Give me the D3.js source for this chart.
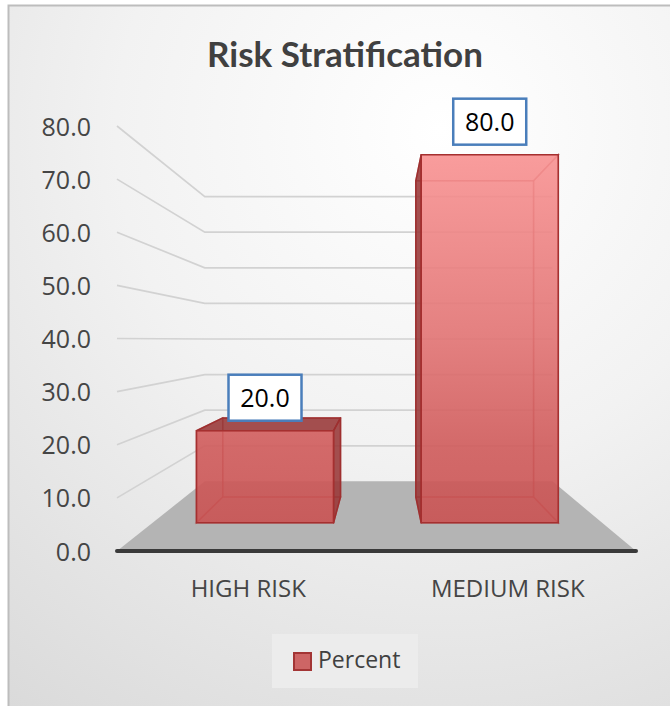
<!DOCTYPE html>
<html><head><meta charset="utf-8">
<script src="https://cdn.jsdelivr.net/npm/d3@7"></script>
<style>body{margin:0;background:#fff} svg{display:block}</style>
</head><body><svg id="c" width="670" height="706"></svg>
<script>
// ---- data ----
const chartTitle = "Risk Stratification";
const categories = ["HIGH RISK", "MEDIUM RISK"];
const percentValues = [20.0, 80.0];
const yTicks = [0, 10, 20, 30, 40, 50, 60, 70, 80];
const seriesName = "Percent";

// ---- layout ----
const W = 670, H = 706;
const svg = d3.select("#c");
const VP = [383, 340];          // vanishing point
const kBack = 0.67;             // depth factor of back wall
const kBarFront = 0.866, kBarBack = 0.744;

const x = d3.scaleBand().domain(categories).range([117, 636]);
const y = d3.scaleLinear().domain([0, 80]).range([551, 126]);
const P = (xw, yw, k) => [VP[0] + k * (xw - VP[0]), VP[1] + k * (yw - VP[1])];
const poly = pts => "M" + pts.map(p => p.join(",")).join("L") + "Z";

const defs = svg.append("defs");
const bg = defs.append("radialGradient").attr("id", "bg")
  .attr("gradientUnits", "userSpaceOnUse").attr("cx", 440).attr("cy", 130).attr("r", 720);
bg.append("stop").attr("offset", 0).attr("stop-color", "#ffffff");
bg.append("stop").attr("offset", 0.45).attr("stop-color", "#f2f2f2");
bg.append("stop").attr("offset", 1).attr("stop-color", "#dadada");

const bar = defs.append("linearGradient").attr("id", "barg")
  .attr("gradientUnits", "userSpaceOnUse").attr("x1", 0).attr("x2", 0).attr("y1", 150).attr("y2", 525);
bar.append("stop").attr("offset", 0).attr("stop-color", "#fa9494");
bar.append("stop").attr("offset", 0.5).attr("stop-color", "#e27474");
bar.append("stop").attr("offset", 0.8).attr("stop-color", "#cf5a5a");
bar.append("stop").attr("offset", 1).attr("stop-color", "#c95252");

// background + frame
svg.append("rect").attr("x", 8.5).attr("y", 5.5).attr("width", W).attr("height", H)
  .attr("fill", "url(#bg)").attr("stroke", "#bdbdbd").attr("stroke-width", 2);

// title
svg.append("text").attr("x", 345).attr("y", 67).attr("text-anchor", "middle")
  .attr("font-family", "Lato, 'Open Sans', sans-serif").attr("font-weight", 700)
  .attr("font-size", 35).attr("fill", "#404040").text(chartTitle);

// floor
const fx0 = x.range()[0], fx1 = x.range()[1];
svg.append("path")
  .attr("d", poly([P(fx0, y(0), 1), P(fx1, y(0), 1), P(fx1, y(0), kBack), P(fx0, y(0), kBack)]))
  .attr("fill", "#b4b4b4");

// gridlines (left wall + back wall)
const grid = svg.append("g").attr("fill", "none").attr("stroke", "#d2d2d2").attr("stroke-width", 1.7);
yTicks.filter(t => t > 0).forEach(t => {
  const a = P(fx0, y(t), 1), b = P(fx0, y(t), kBack), c = P(fx1, y(t), kBack);
  grid.append("path").attr("d", "M" + a + "L" + b + "L" + c);
});

// y tick labels
svg.append("g").selectAll("text").data(yTicks).join("text")
  .attr("x", 91).attr("y", d => y(d) + 9.5).attr("text-anchor", "end")
  .attr("font-family", "'Open Sans', sans-serif").attr("font-size", 25).attr("fill", "#454545")
  .text(d => d.toFixed(1));

// front axis line
svg.append("line").attr("x1", fx0).attr("x2", fx1).attr("y1", y(0)).attr("y2", y(0))
  .attr("stroke", "#3a3a3a").attr("stroke-width", 4).attr("stroke-linecap", "round");

// bars
const barHalf = x.bandwidth() * 0.305;
categories.forEach((cat, i) => {
  const v = percentValues[i];
  const cx = x(cat) + x.bandwidth() / 2;
  const xl = cx - barHalf, xr = cx + barHalf, yt = y(v), yb = y(0);
  const g = svg.append("g");
  const k1 = kBarFront, k2 = kBarBack;
  const back = [P(xl, yt, k2), P(xr, yt, k2), P(xr, yb, k2), P(xl, yb, k2)];
  const bottom = [P(xl, yb, k1), P(xr, yb, k1), P(xr, yb, k2), P(xl, yb, k2)];
  const left = [P(xl, yt, k1), P(xl, yt, k2), P(xl, yb, k2), P(xl, yb, k1)];
  const right = [P(xr, yt, k1), P(xr, yt, k2), P(xr, yb, k2), P(xr, yb, k1)];
  const top = [P(xl, yt, k1), P(xr, yt, k1), P(xr, yt, k2), P(xl, yt, k2)];
  const front = [P(xl, yt, k1), P(xr, yt, k1), P(xr, yb, k1), P(xl, yb, k1)];
  const leftVis = xl > VP[0], rightVis = xr < VP[0], topVis = yt > VP[1];
  const hidden = [back, bottom];
  if (!leftVis) hidden.push(left);
  if (!rightVis) hidden.push(right);
  if (!topVis) hidden.push(top);
  hidden.forEach(f => g.append("path").attr("d", poly(f))
    .attr("fill", "#d06060").attr("fill-opacity", 0.2)
    .attr("stroke", "#a83a3a").attr("stroke-opacity", 0.55).attr("stroke-width", 1.5));
  const vis = [];
  if (leftVis) vis.push(left);
  if (rightVis) vis.push(right);
  if (topVis) vis.push(top);
  vis.forEach(f => g.append("path").attr("d", poly(f))
    .attr("fill", "#963636").attr("fill-opacity", 0.85)
    .attr("stroke", "#9e2f2f").attr("stroke-width", 1.5).attr("stroke-linejoin", "round"));
  g.append("path").attr("d", poly(front))
    .attr("fill", "url(#barg)").attr("fill-opacity", 0.88)
    .attr("stroke", "#a53030").attr("stroke-width", 1.6).attr("stroke-linejoin", "round");

  // data label
  const fc = P(cx, yt, k1);
  const bw = 73, bh = 46;
  const bx = fc[0] - bw / 2, by = fc[1] - 10 - bh;
  svg.append("rect").attr("x", bx).attr("y", by).attr("width", bw).attr("height", bh)
    .attr("fill", "#fff").attr("stroke", "#4a7ebb").attr("stroke-width", 2.5);
  svg.append("text").attr("x", fc[0]).attr("y", by + bh / 2 + 9).attr("text-anchor", "middle")
    .attr("font-family", "'Open Sans', sans-serif").attr("font-size", 25).attr("fill", "#000")
    .text(v.toFixed(1));
});

// category labels
svg.append("g").selectAll("text").data(categories).join("text")
  .attr("x", d => x(d) + x.bandwidth() / 2 + 1.5).attr("y", 597).attr("text-anchor", "middle")
  .attr("font-family", "'Open Sans', sans-serif").attr("font-size", 24).attr("fill", "#454545")
  .text(d => d);

// legend
const lg = svg.append("g");
lg.append("rect").attr("x", 272).attr("y", 634).attr("width", 146).attr("height", 54).attr("fill", "#ececec");
lg.append("rect").attr("x", 294).attr("y", 653).attr("width", 17).attr("height", 17)
  .attr("fill", "#cd6565").attr("stroke", "#a33535").attr("stroke-width", 2);
lg.append("text").attr("x", 318).attr("y", 668)
  .attr("font-family", "'Open Sans', sans-serif").attr("font-size", 23).attr("fill", "#404040")
  .text(seriesName);
</script></body></html>
